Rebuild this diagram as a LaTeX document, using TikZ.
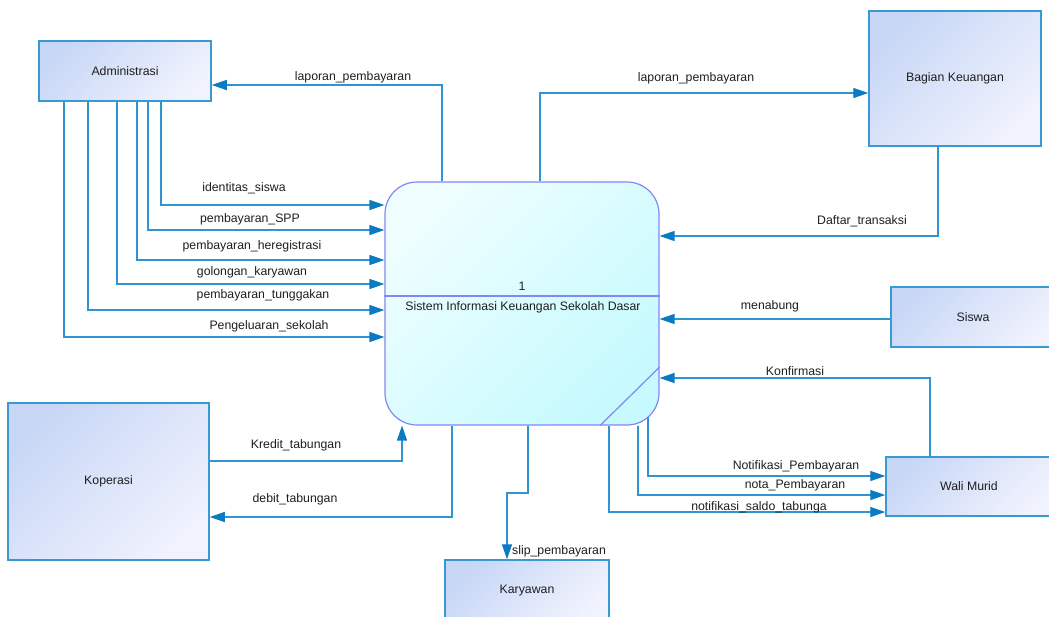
\documentclass[tikz,border=0pt]{standalone}
\usepackage{fontspec}
\setmainfont{Liberation Sans}
\usetikzlibrary{arrows.meta}

\definecolor{flowblue}{HTML}{2F95D2}
\definecolor{tipblue}{HTML}{0A7BC2}
\definecolor{entborder}{HTML}{3A99D3}
\definecolor{entdark}{HTML}{C8D7F6}
\definecolor{entlight}{HTML}{F0F2FD}
\definecolor{procborder}{HTML}{8585F5}
\definecolor{proctop}{HTML}{EEFEFF}
\definecolor{procbot}{HTML}{C6FAFE}
\definecolor{ink}{HTML}{1E1E1E}

\tikzset{
  txt/.style={text=ink, font=\fontsize{12.3}{14}\selectfont},
  entity/.style={txt, draw=entborder, line width=1.5pt,
    top color=entdark, bottom color=entlight, shading angle=45,
    inner sep=0pt},
  process/.style={draw=procborder, line width=1.2pt, rounded corners=32pt,
    top color=proctop, bottom color=procbot, shading angle=45,
    minimum width=274pt, minimum height=243pt, inner sep=0pt},
  flow/.style={draw=flowblue, line width=1.4pt,
    -{Triangle[length=15pt,width=10pt,color=tipblue]}},
  lbl/.style={txt, inner sep=0pt},
}

\begin{document}
\begin{tikzpicture}[x=1pt,y=-1pt]
\useasboundingbox (0,0) rectangle (1049,616);

% external entities
\node[entity, minimum width=172pt, minimum height=60pt] (adm) at (125,71) {Administrasi};
\node[entity, minimum width=172pt, minimum height=135pt] (keu) at (955,78.5) {Bagian Keuangan};
\node[entity, minimum width=201pt, minimum height=157pt] (kop) at (108.5,481.5) {Koperasi};
\node[entity, minimum width=164pt, minimum height=62pt] (kar) at (527,591) {Karyawan};
\node[entity, minimum width=164pt, minimum height=60pt] (sis) at (973,317) {Siswa};
\node[entity, minimum width=166pt, minimum height=59pt] (wal) at (969,486.5) {Wali Murid};

% process
\node[process] (proc) at (522,303.5) {};
\draw[procborder, line width=1.2pt] (proc.west |- 0,296) -- (proc.east |- 0,296);
\draw[procborder, line width=1.2pt] (proc.south -| 600,0) -- (proc.east |- 0,367);
\node[lbl] (pnum) at (522,286) {1};
\node[lbl] (pname) at (523,307) {Sistem Informasi Keuangan Sekolah Dasar};

% Administrasi flows
\draw[flow] (proc.north -| 442,0) |- (adm.east |- 0,85);
\node[lbl] at (353,77) {laporan\_pembayaran};
\draw[flow] (adm.south -| 161,0) |- (proc.west |- 0,205);
\node[lbl] at (244,188) {identitas\_siswa};
\draw[flow] (adm.south -| 148,0) |- (proc.west |- 0,230);
\node[lbl] at (250,219) {pembayaran\_SPP};
\draw[flow] (adm.south -| 137,0) |- (proc.west |- 0,260);
\node[lbl] at (252,246) {pembayaran\_heregistrasi};
\draw[flow] (adm.south -| 117,0) |- (proc.west |- 0,284);
\node[lbl] at (252,272) {golongan\_karyawan};
\draw[flow] (adm.south -| 88,0) |- (proc.west |- 0,310);
\node[lbl] at (263,295) {pembayaran\_tunggakan};
\draw[flow] (adm.south -| 64,0) |- (proc.west |- 0,337);
\node[lbl] at (269,326) {Pengeluaran\_sekolah};

% Bagian Keuangan flows
\draw[flow] (proc.north -| 540,0) |- (keu.west |- 0,93);
\node[lbl] at (696,78) {laporan\_pembayaran};
\draw[flow] (keu.south -| 938,0) |- (proc.east |- 0,236);
\node[lbl] at (862,221) {Daftar\_transaksi};

% Siswa
\draw[flow] (sis.west |- 0,319) -- (proc.east |- 0,319);
\node[lbl] at (770,306) {menabung};

% Wali Murid flows
\draw[flow] (wal.north -| 930,0) |- (proc.east |- 0,378);
\node[lbl] at (795,371) {Konfirmasi};
\coordinate (nstart) at (648,417);
\draw[flow] (nstart) |- (wal.west |- 0,476);
\node[lbl] at (796,466) {Notifikasi\_Pembayaran};
\draw[flow] (proc.south -| 638,0) |- (wal.west |- 0,495);
\node[lbl] at (795,485) {nota\_Pembayaran};
\draw[flow] (proc.south -| 609,0) |- (wal.west |- 0,512);
\node[lbl] at (759,507) {notifikasi\_saldo\_tabunga};

% Koperasi flows
\draw[flow] (kop.east |- 0,461) -| (proc.south -| 402,0);
\node[lbl] at (296,445) {Kredit\_tabungan};
\draw[flow] (proc.south -| 452,0) |- (kop.east |- 0,517);
\node[lbl] at (295,499) {debit\_tabungan};

% Karyawan
\draw[flow] (proc.south -| 528,0) |- (507,493) -- (kar.north -| 507,0);
\node[lbl, anchor=west] at (512,551) {slip\_pembayaran};
\end{tikzpicture}
\end{document}
